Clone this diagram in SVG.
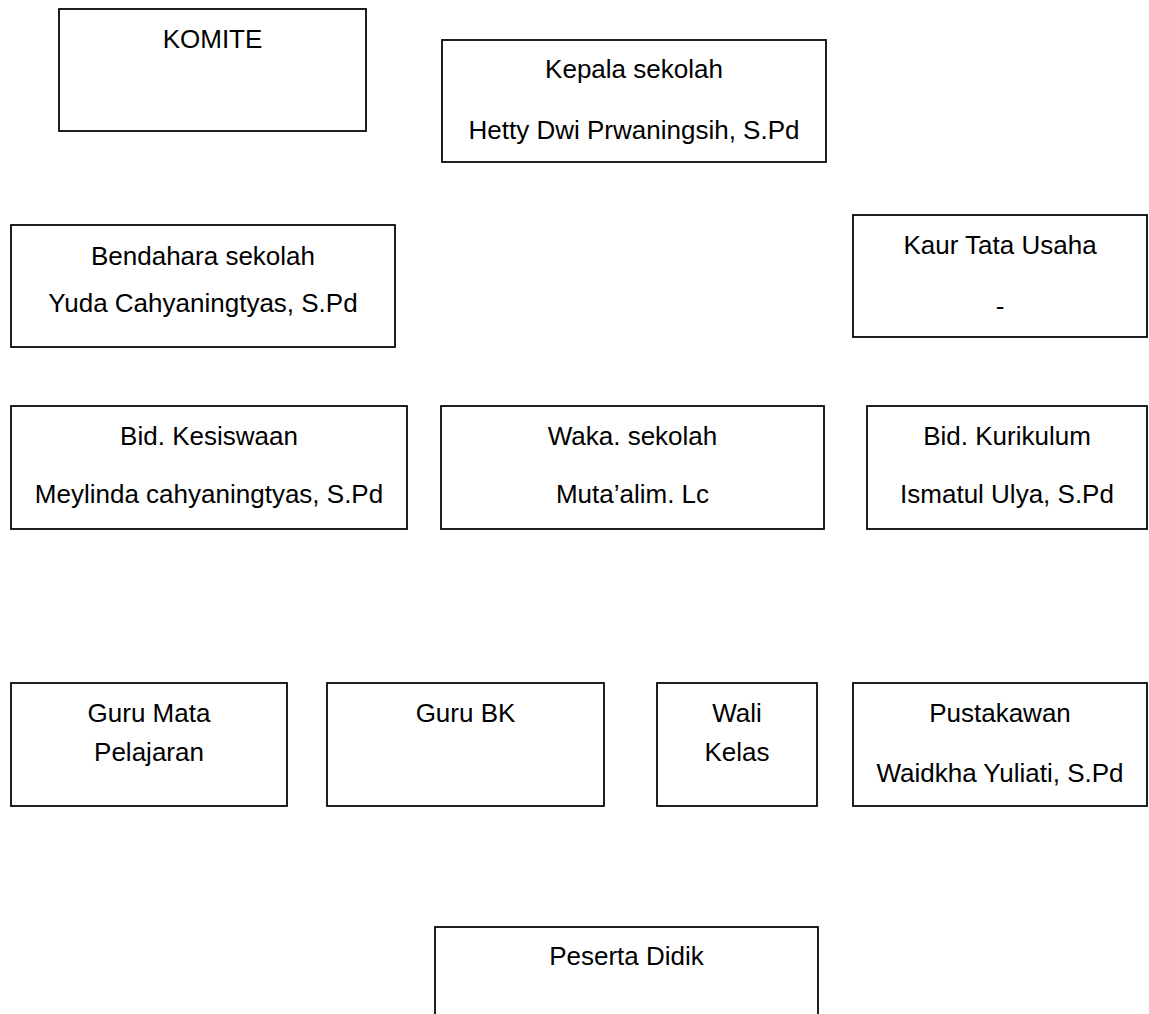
<svg xmlns="http://www.w3.org/2000/svg" width="1149" height="1014" viewBox="0 0 1149 1014">
<style>
rect{fill:#fff;stroke:#000;stroke-width:1.75}
text{font-family:"Liberation Sans",Arial,sans-serif;font-size:26px;fill:#000;text-anchor:middle}
</style>
<rect x="0" y="0" width="1149" height="1014" style="stroke:none"/>
<g id="connectors"/>
<g id="komite"><rect x="59" y="9" width="307" height="122"/><text x="212.5" y="48">KOMITE</text></g>
<g id="kepala"><rect x="442" y="40" width="384" height="122"/><text x="634" y="78">Kepala sekolah</text><text x="634" y="139">Hetty Dwi Prwaningsih, S.Pd</text></g>
<g id="bendahara"><rect x="11" y="225" width="384" height="122"/><text x="203" y="265">Bendahara sekolah</text><text x="203" y="312">Yuda Cahyaningtyas, S.Pd</text></g>
<g id="kaur"><rect x="853" y="215" width="294" height="122"/><text x="1000" y="254">Kaur Tata Usaha</text><text x="1000" y="315">-</text></g>
<g id="kesiswaan"><rect x="11" y="406" width="396" height="123"/><text x="209" y="445">Bid. Kesiswaan</text><text x="209" y="503">Meylinda cahyaningtyas, S.Pd</text></g>
<g id="waka"><rect x="441" y="406" width="383" height="123"/><text x="632.5" y="445">Waka. sekolah</text><text x="632.5" y="503">Muta’alim. Lc</text></g>
<g id="kurikulum"><rect x="867" y="406" width="280" height="123"/><text x="1007" y="445">Bid. Kurikulum</text><text x="1007" y="503">Ismatul Ulya, S.Pd</text></g>
<g id="guru-mapel"><rect x="11" y="683" width="276" height="123"/><text x="149" y="722">Guru Mata</text><text x="149" y="761">Pelajaran</text></g>
<g id="guru-bk"><rect x="327" y="683" width="277" height="123"/><text x="465.5" y="722">Guru BK</text></g>
<g id="wali-kelas"><rect x="657" y="683" width="160" height="123"/><text x="737" y="722">Wali</text><text x="737" y="761">Kelas</text></g>
<g id="pustakawan"><rect x="853" y="683" width="294" height="123"/><text x="1000" y="722">Pustakawan</text><text x="1000" y="782">Waidkha Yuliati, S.Pd</text></g>
<g id="peserta"><rect x="435" y="927" width="383" height="120"/><text x="626.5" y="965">Peserta Didik</text></g>
</svg>
